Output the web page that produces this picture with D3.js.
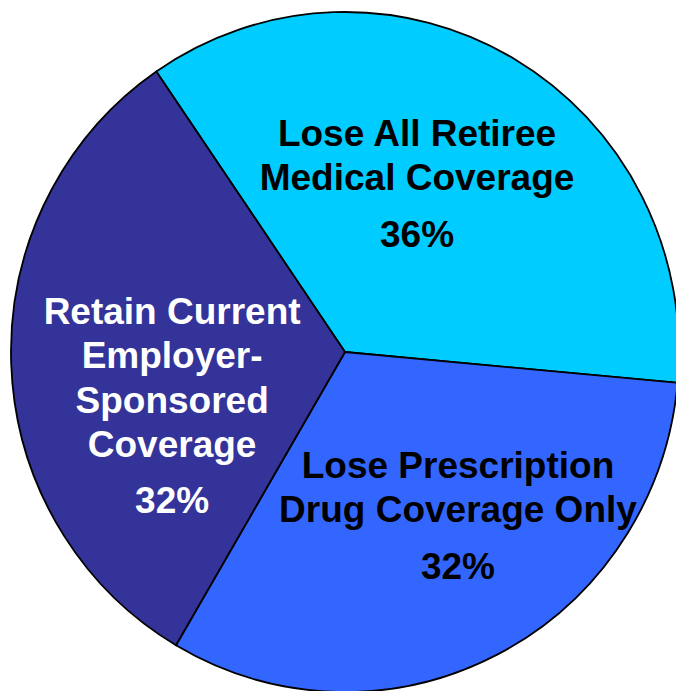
<!DOCTYPE html>
<html>
<head>
<meta charset="utf-8">
<script src="https://cdn.jsdelivr.net/npm/d3@7"></script>
<style>
  html, body { margin: 0; padding: 0; background: #ffffff; }
  svg { display: block; }
</style>
</head>
<body>
<div id="chart"></div>
<script>
// ---- data ----
const categories = [
  "Lose All Retiree Medical Coverage",
  "Lose Prescription Drug Coverage Only",
  "Retain Current Employer-Sponsored Coverage"
];
const values = [36, 32, 32];
const labelLines = [
  ["Lose All Retiree", "Medical Coverage"],
  ["Lose Prescription", "Drug Coverage Only"],
  ["Retain Current", "Employer-", "Sponsored", "Coverage"]
];
const percentLabels = ["36%", "32%", "32%"];

// ---- layout / style ----
const W = 676, H = 691;
const cx = 345, cy = 352;
const rx = 334, ry = 340;
const colors = ["#00CCFF", "#3366FF", "#333399"];
const textColors = ["#000000", "#000000", "#FFFFFF"];
const labelNudge = [[-21.6, -43.4], [28.4, -41.5], [12, -34.5]];
const lineStep = 44.3, pctGap = 56.5;
const fontSize = 37;

const svg = d3.select("#chart").append("svg")
  .attr("width", W).attr("height", H);

const pie = d3.pie().sort(null)
  .startAngle(-34.4 * Math.PI / 180)
  .endAngle((360 - 34.4) * Math.PI / 180);
const arcs = pie(values);

const arc = d3.arc().innerRadius(0).outerRadius(rx);
const labelArc = d3.arc().innerRadius(185).outerRadius(185);

const g = svg.append("g")
  .attr("transform", `translate(${cx},${cy}) scale(1,${ry / rx})`);

g.selectAll("path.slice")
  .data(arcs)
  .join("path")
  .attr("class", "slice")
  .attr("d", arc)
  .attr("fill", (d, i) => colors[i])
  .attr("stroke", "#000")
  .attr("stroke-width", 1.8)
  .attr("stroke-linejoin", "miter")
  .attr("vector-effect", "non-scaling-stroke");

const tg = svg.append("g").attr("transform", `translate(${cx},${cy})`);

arcs.forEach((d, i) => {
  const c = labelArc.centroid(d);
  const x = c[0] + labelNudge[i][0];
  const y = c[1] * (ry / rx) + labelNudge[i][1];
  const lines = labelLines[i];
  const t = tg.append("g").attr("class", "label")
    .attr("fill", textColors[i])
    .attr("font-family", "'Liberation Sans', Arial, Helvetica, sans-serif")
    .attr("font-weight", "bold")
    .attr("font-size", fontSize)
    .attr("text-anchor", "middle");
  lines.forEach((ln, j) => {
    t.append("text").attr("x", x).attr("y", y + j * lineStep).text(ln);
  });
  t.append("text")
    .attr("x", x)
    .attr("y", y + (lines.length - 1) * lineStep + pctGap)
    .text(percentLabels[i]);
});
</script>
</body>
</html>
